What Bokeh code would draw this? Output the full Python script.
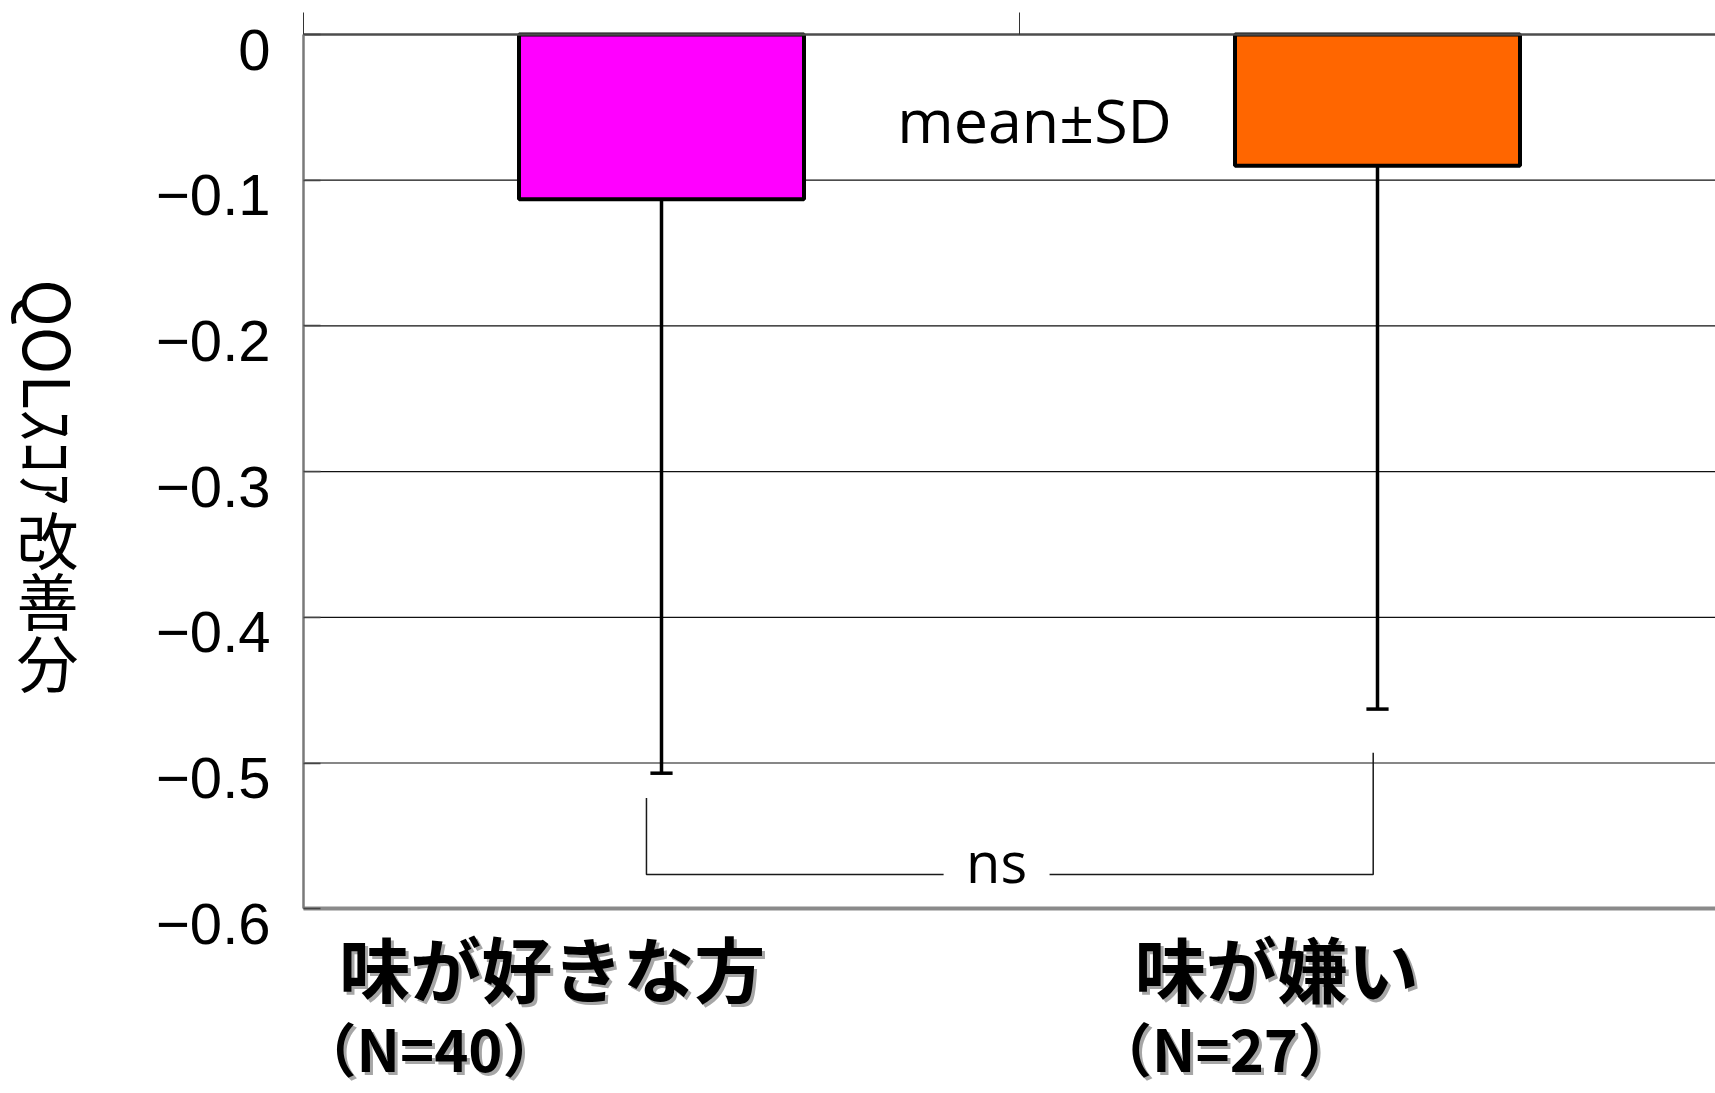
import numpy as np
from bokeh.plotting import figure
from bokeh.models import Range1d, FixedTicker, LinearAxis, Label, ColumnDataSource
from bokeh.core.properties import value
from bokeh.embed import file_html
from bokeh.resources import INLINE

# --- data -------------------------------------------------------------
categories = ["味が好きな方", "味が嫌い"]
n_subjects = [40, 27]
means = [-0.113, -0.090]          # QOL score change, mean
sds = [0.394, 0.373]              # standard deviation
bar_colors = ["#FF00FF", "#FF6600"]

y_ticks = [0, -0.1, -0.2, -0.3, -0.4, -0.5, -0.6]
y_tick_labels = ["0", "−0.1", "−0.2", "−0.3", "−0.4", "−0.5", "−0.6"]

y_title_rotated = "QOLｽｺｱ"
y_title_upright = ["改", "善", "分"]
sd_note = "mean±SD"
sig_label = "ns"
bracket_tops = [-0.524, -0.493]   # top ends of the comparison bracket
bracket_level = -0.5765

# --- canvas geometry --------------------------------------------------
W, H = 1715, 1093
px_x = 716.0                      # pixels per category unit
px_y = 1457.0                     # pixels per score unit
left_px, top_px = 303, 34         # where x=0 / y=0 sit on the canvas
x_lo, x_hi = -left_px / px_x, (W - left_px) / px_x
y_lo, y_hi = -(H - top_px) / px_y, top_px / px_y

x_pos = np.arange(len(categories)) + 0.5
lower = np.array(means) - np.array(sds)

p = figure(width=W, height=H,
           x_range=Range1d(x_lo, x_hi), y_range=Range1d(y_lo, y_hi),
           output_backend="svg", toolbar_location=None,
           x_axis_location=None, y_axis_location=None, min_border=0)
p.outline_line_color = None
p.background_fill_color = "white"
p.border_fill_color = "white"
p.xgrid.visible = False
p.ygrid.visible = False

# horizontal grid lines, from the value axis to the right edge
p.segment(x0=0, y0=y_ticks, x1=x_hi, y1=y_ticks, line_color="#111111", line_width=1.2)

# value axis (tick labels are set just below each tick line)
ya = LinearAxis(fixed_location=0, bounds=(-0.6, 0),
                ticker=FixedTicker(ticks=y_ticks),
                major_label_overrides={t: "" for t in y_ticks},
                axis_line_color="#7a7a7a", axis_line_width=2.5,
                major_tick_in=17, major_tick_out=0,
                major_tick_line_color="#444444", major_tick_line_width=1.5,
                minor_tick_line_color=None)
p.add_layout(ya, "left")
p.text(x=0, y=y_ticks, text=y_tick_labels, x_offset=-33, y_offset=15,
       text_align="right", text_baseline="middle",
       text_font=value("Liberation Sans"), text_font_size="58px", text_color="black")

# category axis line along value 0, with divider ticks pointing up
top_axis = LinearAxis(fixed_location=0, bounds=(0, x_hi),
                      ticker=FixedTicker(ticks=[0, 1, 2]),
                      major_label_overrides={0: "", 1: "", 2: ""},
                      major_tick_out=22, major_tick_in=0,
                      major_tick_line_color="#333333", major_tick_line_width=1,
                      minor_tick_line_color=None,
                      axis_line_color="#4d4d4d", axis_line_width=2.5)
p.add_layout(top_axis, "above")

bottom_axis = LinearAxis(fixed_location=-0.6, bounds=(0, x_hi),
                         ticker=FixedTicker(ticks=[]),
                         major_tick_line_color=None, minor_tick_line_color=None,
                         axis_line_color="#8a8a8a", axis_line_width=4)
p.add_layout(bottom_axis, "below")

# bars
src = ColumnDataSource(dict(x=x_pos, top=[0] * len(means), bottom=means, color=bar_colors))
p.vbar(x="x", width=0.398, top="top", bottom="bottom", source=src,
       fill_color="color", line_color="black", line_width=4)

# lower error bars (mean - SD)
cap = 0.0155
p.segment(x0=x_pos, y0=means, x1=x_pos, y1=lower, line_color="black", line_width=3.5)
p.segment(x0=x_pos - cap, y0=lower, x1=x_pos + cap, y1=lower, line_color="black", line_width=3.5)

# comparison bracket with a gap for the label
bx = [x_pos[0] - 0.021, x_pos[1] - 0.006]
gap = [0.894, 1.042]
p.multi_line(xs=[[bx[0], bx[0], gap[0]], [gap[1], bx[1], bx[1]]],
             ys=[[bracket_tops[0], bracket_level, bracket_level],
                 [bracket_level, bracket_level, bracket_tops[1]]],
             line_color="#1a1a1a", line_width=1.5)
p.add_layout(Label(x=(gap[0] + gap[1]) / 2, y=-0.5676, text=sig_label,
                   text_align="center", text_baseline="middle",
                   text_font="Open Sans", text_font_size="56px", text_color="black"))

p.add_layout(Label(x=1.021, y=-0.0583, text=sd_note,
                   text_align="center", text_baseline="middle",
                   text_font="Open Sans", text_font_size="61px", text_color="black"))

# category labels (with a soft drop shadow)
label_x = [0.050, 1.161]
for i, cat in enumerate(categories):
    lines = [(cat, label_x[i], -0.6393, "71px"),
             (f"（N={n_subjects[i]}）", label_x[i] - 0.057, -0.6946, "58px")]
    for txt, xx, yy, fs in lines:
        for dx, dy, col in [(3, -3, "#a6a6a6"), (0, 0, "black")]:
            p.add_layout(Label(x=xx, y=yy, text=txt,
                               x_offset=dx, y_offset=dy,
                               text_align="left", text_baseline="middle",
                               text_font="Noto Sans CJK JP", text_font_style="bold",
                               text_font_size=fs, text_color=col))

# value axis title: rotated Latin/half-width part, then upright kanji
p.add_layout(Label(x=-0.3530, y=-0.168, text=y_title_rotated, angle=-np.pi / 2,
                   text_align="left", text_baseline="middle",
                   text_font="Noto Sans CJK JP", text_font_size="64px", text_color="black"))
for ch, yy in zip(y_title_upright, [-0.3453, -0.3875, -0.4297]):
    p.add_layout(Label(x=-0.3575, y=yy, text=ch,
                       text_align="center", text_baseline="middle",
                       text_font="Noto Sans CJK JP", text_font_size="62px", text_color="black"))

open("out.html", "w").write(file_html(p, INLINE))
